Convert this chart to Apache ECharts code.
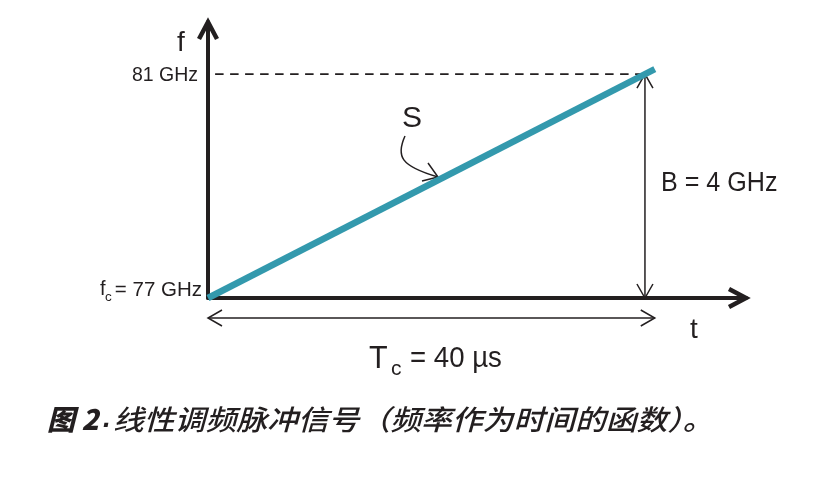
<!DOCTYPE html>
<html><head><meta charset="utf-8">
<script src="https://cdn.jsdelivr.net/npm/echarts@6/dist/echarts.min.js"></script>
<style>html,body{margin:0;padding:0;background:#fff}#c{width:822px;height:480px}</style>
</head><body><div id="c"></div>
<script>
// ---- data ----
const chirpTime = [0, 40.9];        // µs, ends of the plotted chirp line
const chirpFreq = [77, 81.09];      // GHz
const startFreq = 77;               // f_c
const stopFreq = 81;                // GHz
const chirpDuration = 40;           // T_c, µs
const bandwidthGHz = 4;             // B
const freqTicks = [77, 81];
const freqTickMain = ['f', '81 GHz'];
const freqTickSub = ['c', ''];
const freqTickTail = ['= 77 GHz', ''];
const captionHead = '图 2';
const captionBody = '线性调频脉冲信号（频率作为时间的函数）。';

const INK = '#231f20';
const TEAL = '#3399ad';
const SANS = '"Liberation Sans", Arial, sans-serif';
const CJK = '"Noto Sans CJK SC", sans-serif';

const chart = echarts.init(document.getElementById('c'), null, {renderer: 'canvas'});

function chevron(tip, dx, dy, len, half) {
  const px = -dy, py = dx;
  return [
    [tip[0] - dx * len + px * half, tip[1] - dy * len + py * half],
    [tip[0], tip[1]],
    [tip[0] - dx * len - px * half, tip[1] - dy * len - py * half]
  ];
}
// text positioned by its baseline (top-based layout: baseline ~ top + 0.86em)
function txt(x, baseline, s, size, align, sx) {
  return {
    type: 'text', x: x, y: baseline - 0.86 * size, scaleX: sx || 1,
    style: {
      text: s, x: 0, y: 0,
      font: size + 'px ' + SANS, fill: INK, align: align || 'left', verticalAlign: 'top'
    }
  };
}

const dimArrows = [
  [chirpDuration, startFreq, chirpDuration, stopFreq],   // B arrow
  [chirpTime[0], startFreq, chirpTime[1], startFreq]     // T_c arrow (drawn below axis)
];

chart.setOption({
  animation: false,
  backgroundColor: '#fff',
  grid: {left: 208, right: 76, top: 22, bottom: 182, containLabel: false},
  xAxis: {
    type: 'value', min: 0, max: 49.25,
    axisLine: {show: true, onZero: false, lineStyle: {color: INK, width: 4}},
    axisTick: {show: false}, axisLabel: {show: false}, splitLine: {show: false}
  },
  yAxis: {
    type: 'value', min: 77, max: 81.93,
    axisLine: {show: true, onZero: false, lineStyle: {color: INK, width: 4}},
    axisTick: {show: false}, axisLabel: {show: false}, splitLine: {show: false}
  },
  series: [
    {
      type: 'line', name: 'max freq', silent: true, symbol: 'none',
      data: [[0.65, stopFreq], [chirpDuration - 0.35, stopFreq]],
      lineStyle: {color: INK, width: 1.8, type: [8.5, 6.5]}, z: 2
    },
    {
      type: 'line', name: 'S', silent: true, symbol: 'none',
      data: chirpTime.map((t, i) => [t, chirpFreq[i]]),
      lineStyle: {color: TEAL, width: 6.5, cap: 'butt'}, z: 4
    },
    {
      type: 'custom', name: 'dims', silent: true, clip: false, z: 3,
      data: dimArrows,
      renderItem: function (params, api) {
        const a = api.coord([api.value(0), api.value(1)]);
        const b = api.coord([api.value(2), api.value(3)]);
        if (params.dataIndex === 1) { a[1] += 20; b[1] += 20; }
        const L = Math.hypot(b[0] - a[0], b[1] - a[1]);
        const dx = (b[0] - a[0]) / L, dy = (b[1] - a[1]) / L;
        const st = {stroke: INK, lineWidth: 1.5, fill: 'none'};
        return {
          type: 'group', children: [
            {type: 'line', shape: {x1: a[0], y1: a[1], x2: b[0], y2: b[1]}, style: st},
            {type: 'polyline', shape: {points: chevron(b, dx, dy, 14, 8)}, style: st},
            {type: 'polyline', shape: {points: chevron(a, -dx, -dy, 14, 8)}, style: st}
          ]
        };
      }
    },
    {
      type: 'custom', name: 'freq labels', silent: true, clip: false, z: 6,
      data: freqTicks.map(v => [0, v]),
      renderItem: function (params, api) {
        const p = api.coord([api.value(0), api.value(1)]);
        const i = params.dataIndex;
        if (i === 1) {
          return txt(p[0] - 10, p[1] + 8, freqTickMain[i], 19.5, 'right');
        }
        const base = p[1] - 1;
        return {
          type: 'group', children: [
            txt(p[0] - 108, base, freqTickMain[i], 20),
            txt(p[0] - 103, base + 5, freqTickSub[i], 13.5),
            txt(p[0] - 6, base, freqTickTail[i], 20.5, 'right')
          ]
        };
      }
    },
    {
      type: 'custom', name: 'axis heads', silent: true, clip: false, z: 5,
      data: [[0]],
      renderItem: function (params, api) {
        const cs = params.coordSys;
        const st = {stroke: INK, lineWidth: 4.5, fill: 'none', lineJoin: 'miter'};
        const xTip = [cs.x + cs.width, cs.y + cs.height];
        const yTip = [cs.x, cs.y];
        return {
          type: 'group', children: [
            {type: 'polyline', shape: {points: chevron(xTip, 1, 0, 17, 9)}, style: st},
            {type: 'polyline', shape: {points: chevron(yTip, 0, -1, 17, 9)}, style: st}
          ]
        };
      }
    }
  ],
  graphic: [
    txt(177, 53, 'f', 28),
    txt(690, 340, 't', 28),
    txt(402, 130, 'S', 30),
    txt(661, 193, 'B = ' + bandwidthGHz + ' GHz', 27, 'left', 0.93),
    txt(369, 370, 'T', 30.5),
    txt(391, 377, 'c', 21),
    txt(410, 370, '= ' + chirpDuration + ' µs', 30, 'left', 0.92),
    {type: 'bezierCurve', shape: {x1: 405, y1: 136, cpx1: 396, cpy1: 156, cpx2: 400, cpy2: 166, x2: 438, y2: 177},
      style: {stroke: INK, lineWidth: 1.5, fill: 'none'}},
    {type: 'polyline', shape: {points: [[428, 163], [438, 177], [422, 181]]},
      style: {stroke: INK, lineWidth: 1.5, fill: 'none'}},
    {type: 'text', x: 47, y: 405, style: {text: captionHead, font: 'italic 900 28px ' + CJK, fill: INK}},
    {type: 'text', x: 103, y: 405, style: {text: '.', font: 'italic bold 28px ' + SANS, fill: INK}},
    {type: 'text', x: 113, y: 405, scaleX: 1.1,
      style: {text: captionBody, font: 'italic 500 28px ' + CJK, fill: INK}}
  ]
});
</script>
</body></html>
